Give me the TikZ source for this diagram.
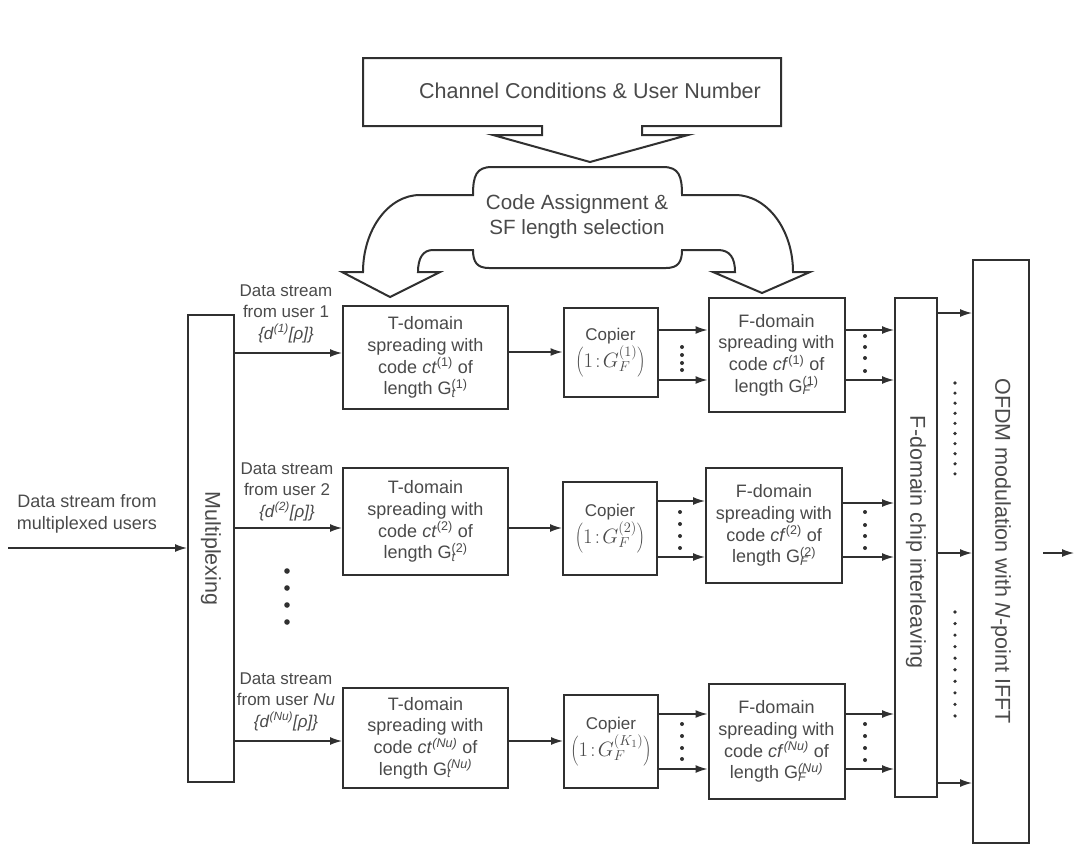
\documentclass[tikz,border=0pt]{standalone}
\usepackage{fontspec}
\setmainfont{Liberation Sans}
\usetikzlibrary{arrows.meta}
\definecolor{ink}{HTML}{303030}
\definecolor{txt}{HTML}{4A4A4A}
% letter with stacked subscript and superscript
\newcommand{\GSS}[3]{#1\rlap{\textsubscript{#2}}\textsuperscript{#3}}
% copier ratio, set a little larger than the surrounding text
\newcommand{\ratio}[1]{{\fontsize{21}{23}\selectfont$\left(1\!:\!G_F^{(#1)}\right)$}}
\tikzset{
  blk/.style={draw=ink, line width=2pt, fill=white, inner sep=0pt},
  arr/.style={draw=ink, line width=1.4pt, -{Latex[length=12pt,width=8pt]}},
  btxt/.style={text=txt, align=center, inner sep=0pt, font=\fontsize{18}{21.7}\selectfont},
  ctxt/.style={text=txt, align=center, inner sep=0pt, font=\fontsize{17}{19}\selectfont},
  lbl/.style={text=txt, align=center, inner sep=0pt, font=\fontsize{17}{21.5}\selectfont},
  big/.style={text=txt, align=center, inner sep=0pt, font=\fontsize{21.5}{25}\selectfont},
}
\begin{document}
\begin{tikzpicture}[x=1pt,y=-1pt]
\useasboundingbox (0,0) rectangle (1075,846);

% control block with down arrow
\draw[ink, line width=2pt, fill=white]
  (363,58) -- (781,58) -- (781,126) -- (642,126) -- (642,135) -- (688,135)
  -- (590,162) -- (493,135) -- (542,135) -- (542,126) -- (363,126) -- cycle;
\node[big] (chan) at (590,91) {Channel Conditions \& User Number};

% code assignment block with two curved arrows
\draw[ink, line width=2pt, fill=white]
  (473,195) .. controls (473,176) and (476,167) .. (492,167)
  -- (663,167) .. controls (679,167) and (682,176) .. (682,195)
  -- (735,195) .. controls (767,195) and (793,229.5) .. (793,272)
  -- (810,272) -- (762,293) -- (713,272) -- (735,272)
  .. controls (735,258) and (730,250) .. (718,250)
  -- (682,250) .. controls (682,262) and (678,268) .. (666,268)
  -- (489,268) .. controls (477,268) and (473,262) .. (473,250)
  -- (433,250) .. controls (423,250) and (418,258) .. (418,272)
  -- (440,272) -- (390,297) -- (342,272) -- (363,272)
  .. controls (363,229.5) and (388.5,195) .. (420,195)
  -- cycle;
\node[big, font=\fontsize{20.6}{25}\selectfont] (code) at (577,217) {Code Assignment \&\\SF length selection};

% multiplexer
\node[blk, minimum width=46pt, minimum height=467pt] (mux) at (211,548.5) {};
\node[big, rotate=-90] (muxt) at (mux.center) {Multiplexing};
\coordinate (src) at (8,548);
\draw[arr] (src) -- (mux.west |- src);
\node[lbl, font=\fontsize{18}{22}\selectfont] (srct) at (87,514) {Data stream from\\multiplexed users};

% T-domain spreading
\node[blk, btxt, minimum width=165pt, minimum height=103pt] (t1) at (425.5,357.5)
  {T-domain\\spreading with\\code \textit{ct}\textsuperscript{(1)} of\\length \GSS{G}{\textit{t}}{(1)}};
\node[blk, btxt, minimum width=165pt, minimum height=107pt] (t2) at (425.5,521.5)
  {T-domain\\spreading with\\code \textit{ct}\textsuperscript{(2)} of\\length \GSS{G}{\textit{t}}{(2)}};
\node[blk, btxt, minimum width=165pt, minimum height=100pt] (t3) at (425.5,738)
  {T-domain\\spreading with\\code \textit{ct}\textsuperscript{\textit{(Nu)}} of\\length \GSS{G}{\textit{t}}{\textit{(Nu)}}};

% user stream labels
\node[lbl] (u1) at (286,313.5) {Data stream\\from user 1\\\textit{\{d}\textsuperscript{\textit{(1)}}\textit{[ρ]\}}};
\node[lbl] (u2) at (287,491.5) {Data stream\\from user 2\\\textit{\{d}\textsuperscript{\textit{(2)}}\textit{[ρ]\}}};
\node[lbl] (u3) at (286,701.5) {Data stream\\from user \textit{Nu}\\\textit{\{d}\textsuperscript{\textit{(Nu)}}\textit{[ρ]\}}};
\foreach \y in {571,588,605,622} \fill[ink] (287,\y) circle (2.8);

% copiers
\node[blk, ctxt, minimum width=94pt, minimum height=89pt] (c1) at (610.5,352.5)
  {Copier\\[1pt]\ratio{1}};
\node[blk, ctxt, minimum width=94pt, minimum height=93pt] (c2) at (610,528.5)
  {Copier\\[1pt]\ratio{2}};
\node[blk, ctxt, minimum width=94pt, minimum height=93pt] (c3) at (611,741.5)
  {Copier\\[1pt]\ratio{K_1}};

% F-domain spreading
\node[blk, btxt, minimum width=136pt, minimum height=114pt] (f1) at (776.5,355)
  {F-domain\\spreading with\\code \textit{cf}\textsuperscript{(1)} of\\length \GSS{G}{\textit{F}}{(1)}};
\node[blk, btxt, minimum width=136pt, minimum height=115pt] (f2) at (774,525.5)
  {F-domain\\spreading with\\code \textit{cf}\textsuperscript{(2)} of\\length \GSS{G}{\textit{F}}{(2)}};
\node[blk, btxt, minimum width=136pt, minimum height=115pt] (f3) at (776.5,741.5)
  {F-domain\\spreading with\\code \textit{cf}\textsuperscript{\textit{(Nu)}} of\\length \GSS{G}{\textit{F}}{\textit{(Nu)}}};

% interleaver and OFDM modulator
\node[blk, minimum width=42pt, minimum height=499pt] (il) at (916,547.5) {};
\node[big, rotate=-90] (ilt) at (916,542) {F-domain chip interleaving};
\node[blk, minimum width=56pt, minimum height=583pt] (ofdm) at (1001,551.5) {};
\node[big, rotate=-90] (ofdmt) at (1001,551) {OFDM modulation with \textit{N}-point IFFT};

% row connectors
\draw[arr] (mux.east |- 0,353) -- (t1.west |- 0,353);
\draw[arr] (mux.east |- 0,528) -- (t2.west |- 0,528);
\draw[arr] (mux.east |- 0,741) -- (t3.west |- 0,741);
\draw[arr] (t1.east |- 0,352) -- (c1.west |- 0,352);
\draw[arr] (t2.east |- 0,528) -- (c2.west |- 0,528);
\draw[arr] (t3.east |- 0,741) -- (c3.west |- 0,741);
\foreach \y in {330,380} \draw[arr] (c1.east |- 0,\y) -- (f1.west |- 0,\y);
\foreach \y in {501,557} \draw[arr] (c2.east |- 0,\y) -- (f2.west |- 0,\y);
\foreach \y in {714,769} \draw[arr] (c3.east |- 0,\y) -- (f3.west |- 0,\y);
\foreach \y in {330,380} \draw[arr] (f1.east |- 0,\y) -- (il.west |- 0,\y);
\foreach \y in {503,557} \draw[arr] (f2.east |- 0,\y) -- (il.west |- 0,\y);
\foreach \y in {714,769} \draw[arr] (f3.east |- 0,\y) -- (il.west |- 0,\y);
\foreach \y in {313,553,783} \draw[arr] (il.east |- 0,\y) -- (ofdm.west |- 0,\y);
\coordinate (outA) at (1043,553);
\coordinate (outB) at (1074,553);
\draw[arr] (outA) -- (outB);

% ellipsis dots
\foreach \y in {347,355,363,370} \fill[ink] (682,\y) circle (2);
\foreach \y in {512,524,536,548} \fill[ink] (680,\y) circle (2);
\foreach \y in {724,736,748,759} \fill[ink] (682,\y) circle (2);
\foreach \y in {336,347,358,371} \fill[ink] (865,\y) circle (2);
\foreach \y in {512,525,536,548} \fill[ink] (865,\y) circle (2);
\foreach \y in {724,736,748,760} \fill[ink] (865,\y) circle (2);
\foreach \i in {0,...,9} \fill[ink] (955,383+10.1*\i) circle (1.8);
\foreach \i in {0,...,9} \fill[ink] (955,612+11.55*\i) circle (1.8);
\end{tikzpicture}
\end{document}
